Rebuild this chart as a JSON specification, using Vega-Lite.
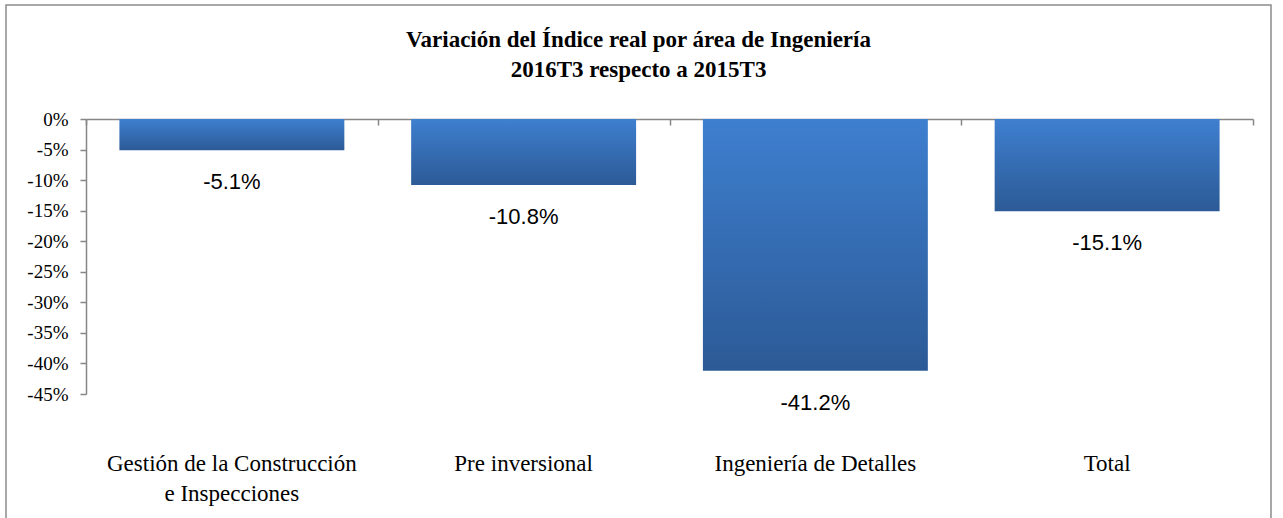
{
  "$schema": "https://vega.github.io/schema/vega-lite/v6.json",
  "autosize": {"type": "none"},
  "padding": {"left": 6, "top": 5, "right": 12, "bottom": 0},
  "width": 1265,
  "height": 520,
  "background": "white",
  "config": {
    "view": {"stroke": "#8c8c8c", "strokeWidth": 1.5},
    "locale": {"number": {"decimal": ".", "thousands": ",", "grouping": [3], "currency": ["$", ""], "minus": "-"}},
    "axisY": {
      "labelFont": "Liberation Serif",
      "labelFontSize": 19,
      "labelColor": "#000000",
      "labelPadding": 12,
      "domainColor": "#868686",
      "domainWidth": 1.5,
      "tickColor": "#868686",
      "tickWidth": 1.5,
      "tickSize": 6,
      "grid": false
    }
  },
  "title": {
    "text": ["Variación del Índice real por área de Ingeniería", "2016T3 respecto a 2015T3"],
    "font": "Liberation Serif",
    "fontSize": 23,
    "fontWeight": "bold",
    "color": "#000000",
    "anchor": "middle",
    "frame": "group",
    "lineHeight": 30,
    "offset": -77
  },
  "data": {
    "values": [
      {"area": "Gestión de la Construcción e Inspecciones", "var": -0.051},
      {"area": "Pre inversional", "var": -0.108},
      {"area": "Ingeniería de Detalles", "var": -0.412},
      {"area": "Total", "var": -0.151}
    ]
  },
  "encoding": {
    "y": {
      "field": "var",
      "type": "quantitative",
      "scale": {"domain": [-0.45, 0], "range": [389, 114], "nice": false, "zero": false},
      "axis": {
        "orient": "left",
        "offset": -80,
        "title": null,
        "values": [0, -0.05, -0.1, -0.15, -0.2, -0.25, -0.3, -0.35, -0.4, -0.45],
        "format": ".0%",
        "labelFont": "Liberation Serif",
        "labelFontSize": 19,
        "labelColor": "#000000"
      }
    }
  },
  "layer": [
    {
      "mark": {
        "type": "bar",
        "width": {"band": 0.771},
        "color": {
          "gradient": "linear",
          "x1": 0, "y1": 0, "x2": 0, "y2": 1,
          "stops": [
            {"offset": 0, "color": "#3e7fcf"},
            {"offset": 1, "color": "#2c5a96"}
          ]
        }
      },
      "encoding": {
        "x": {
          "field": "area",
          "type": "nominal",
          "sort": null,
          "scale": {"range": [80, 1247], "paddingInner": 0, "paddingOuter": 0},
          "axis": {
            "orient": "top",
            "offset": -114,
            "title": null,
            "labels": false,
            "domainColor": "#868686",
            "domainWidth": 1.5,
            "tickColor": "#868686",
            "tickWidth": 1.5,
            "tickSize": -6,
            "tickBand": "extent",
            "grid": false
          }
        }
      }
    },
    {
      "mark": {
        "type": "text",
        "font": "Liberation Sans",
        "fontSize": 22,
        "color": "#000000",
        "baseline": "alphabetic",
        "align": "center",
        "dy": 39
      },
      "encoding": {
        "x": {
          "field": "area",
          "type": "nominal",
          "sort": null,
          "axis": {
            "orient": "bottom",
            "offset": -73,
            "title": null,
            "domain": false,
            "ticks": false,
            "labelPadding": 0,
            "labelAngle": 0,
            "labelBaseline": "top",
            "labelFont": "Liberation Serif",
            "labelFontSize": 23,
            "labelColor": "#000000",
            "labelLimit": 500,
            "labelLineHeight": 30,
            "labelExpr": "datum.label == 'Gestión de la Construcción e Inspecciones' ? ['Gestión de la Construcción', 'e Inspecciones'] : datum.label"
          }
        },
        "text": {"field": "var", "type": "quantitative", "format": ".1%"}
      }
    }
  ],
  "resolve": {"axis": {"x": "independent"}}
}
